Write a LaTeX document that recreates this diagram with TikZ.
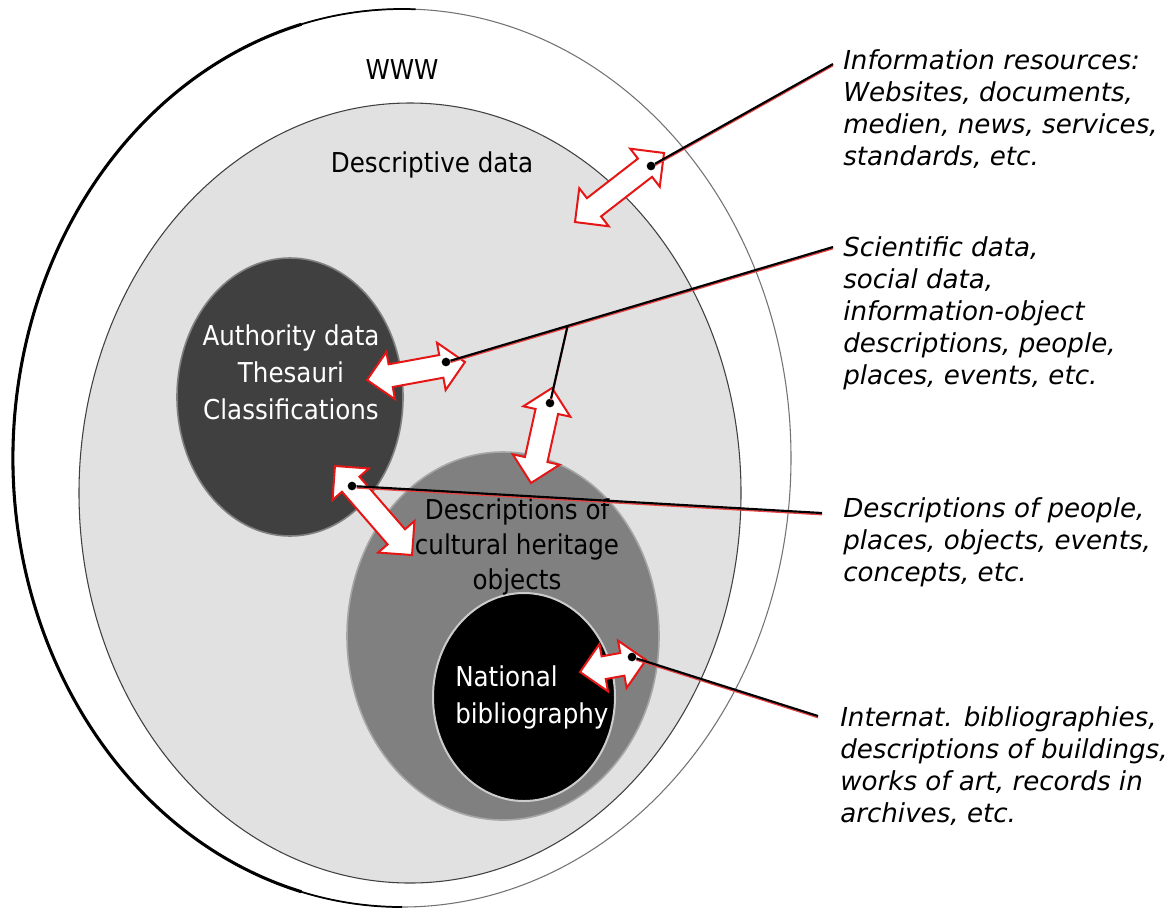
\documentclass[tikz,border=0pt]{standalone}
\usepackage{fontspec}
\setmainfont{DejaVu Sans}
\newfontfamily\circfont{DejaVu Sans Condensed}
\newfontfamily\notefont{DejaVu Sans Oblique}
\usetikzlibrary{shapes.geometric,shapes.arrows,calc}

\definecolor{arrowred}{RGB}{228,22,22}
\definecolor{descgray}{RGB}{225,225,225}
\definecolor{authgray}{RGB}{64,64,64}
\definecolor{heritgray}{RGB}{128,128,128}

\tikzset{
  disc/.style={ellipse, inner sep=0pt},
  circlabel/.style={font=\circfont\fontsize{20.5}{27.75}\selectfont, align=center, inner sep=0pt},
  notelabel/.style={font=\notefont\fontsize{19.6}{24}\selectfont, align=left, anchor=base west, inner sep=0pt},
  blockarrow/.style={double arrow, draw=arrowred, line width=1.5pt, fill=white, inner xsep=0pt, inner ysep=7.9pt, double arrow head extend=9.4pt, double arrow tip angle=90, minimum width=0pt},
  dotnode/.style={circle, fill=black, inner sep=0pt, minimum size=6.5pt},
  leader/.style={line width=1.6pt, preaction={draw=arrowred!80, line width=1.2pt, transform canvas={yshift=-1.2pt}}}
}

\begin{document}
\begin{tikzpicture}[x=0.75pt,y=0.75pt,yscale=-1,xscale=1]
\useasboundingbox (0,0) rectangle (1176,908);

%Shape: Ellipse [www]
\node[disc, fill=white, draw=black!55, line width=0.8pt, minimum width=583.5pt, minimum height=673.5pt] (www) at (402,458) {};
\draw[line width=1.3pt] (www.center) ++(90:389 and 449) arc[start angle=90, end angle=272, x radius=389, y radius=449];
\draw[line width=2.3pt] (www.center) ++(105:389 and 449) arc[start angle=105, end angle=255, x radius=389, y radius=449];
%Shape: Ellipse [descriptive data]
\node[disc, fill=descgray, draw=black!75, line width=0.8pt, minimum width=496.5pt, minimum height=585pt] (desc) at (410,493) {};
%Shape: Ellipse [authority data]
\node[disc, fill=authgray, draw=gray, line width=1.2pt, minimum width=169.5pt, minimum height=208.5pt] (auth) at (290,397) {};
%Shape: Ellipse [cultural heritage]
\node[disc, fill=heritgray, draw=gray!70, line width=1.2pt, minimum width=234pt, minimum height=276pt] (herit) at (503,636) {};
%Shape: Ellipse [national bibliography]
\node[disc, fill=black, draw=gray!40, line width=1.5pt, minimum width=136.5pt, minimum height=156pt] (natbib) at (524,697) {};

% Text Node
\node[circlabel] (wwwlab) at (402,70) {WWW};
% Text Node
\node[circlabel] (desclab) at (432,165) {Descriptive data};
% Text Node
\node[circlabel, text=white] (authlab) at (291,372) {Authority data\\Thesauri\\Classifications};
% Text Node
\node[circlabel, font=\circfont\fontsize{20.5}{26.25}\selectfont] (heritlab) at (517,547) {Descriptions of\\cultural heritage\\objects};
% Text Node
\node[circlabel, text=white, align=left, anchor=west] (natlab) at (455,697) {National\\bibliography};

%Block arrows
\node[blockarrow, minimum height=84.5pt, rotate=37.8] (arrA) at (619.5,187.5) {};
\node[blockarrow, minimum height=74.7pt, rotate=10.4] (arrB) at (416,371) {};
\node[blockarrow, minimum height=73pt, rotate=77.5] (arrC) at (541.5,435.5) {};
\node[blockarrow, minimum height=88.3pt, rotate=-49.1] (arrD) at (373.5,510.5) {};
\node[blockarrow, minimum height=50.3pt, rotate=10.3] (arrE) at (613,666) {};

%Dots
\node[dotnode] (dotA) at (651,166) {};
\node[dotnode] (dotB) at (446,362) {};
\node[dotnode] (dotC) at (550,403) {};
\node[dotnode] (dotD) at (352,486) {};
\node[dotnode] (dotE) at (632,657) {};

\coordinate (endA) at (833,64);
\coordinate (endB) at (833,247);
\coordinate (endD) at (822,513);
\coordinate (endE) at (818,716);
\coordinate (joinB) at ($(dotB)!0.314!(endB)$);

%Straight Lines
\draw[leader] (dotA) -- (endA);
\draw[leader] (dotB) -- (endB);
\draw[leader] (joinB) -- (dotC);
\draw[leader] (dotD) -- (endD);
\draw[leader] (dotE) -- (endE);

% Text Node (anchored at the baseline of the last line)
\node[notelabel] (noteA) at (843,165) {Information resources:\\Websites, documents,\\medien, news, services,\\standards, etc.};
% Text Node
\node[notelabel] (noteB) at (843,384) {Scientific data,\\social data,\\information-object\\descriptions, people,\\places, events, etc.};
% Text Node
\node[notelabel] (noteD) at (843,581) {Descriptions of people,\\places, objects, events,\\concepts, etc.};
% Text Node
\node[notelabel] (noteE) at (840,822) {Internat. bibliographies,\\descriptions of buildings,\\works of art, records in\\archives, etc.};

\end{tikzpicture}
\end{document}
